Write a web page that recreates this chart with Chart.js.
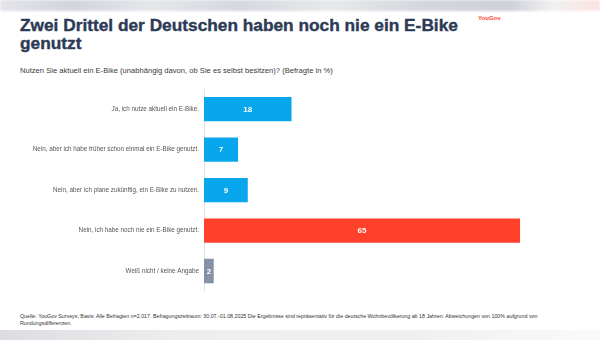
<!DOCTYPE html>
<html lang="de">
<head>
<meta charset="utf-8">
<script src="https://cdn.jsdelivr.net/npm/chart.js@4"></script>
<style>
  html, body { margin: 0; padding: 0; }
  body {
    width: 600px; height: 340px; position: relative; overflow: hidden;
    background: #fff; font-family: "Liberation Sans", Arial, sans-serif;
  }
  .band-top {
    position: absolute; left: 0; top: 0; width: 600px; height: 11px;
    background: linear-gradient(90deg, #e4e5ea 0%, #d3d5dc 12%, #e6e7eb 25%, #d6d8de 40%, #e8e9ec 55%, #d5d7dd 70%, #cfd1d9 85%, #f1f1f2 92%, #fbe3e1 100%);
    filter: blur(1px);
  }
  .band-bottom {
    position: absolute; left: 0; top: 330px; width: 600px; height: 10px;
    background: linear-gradient(90deg, #dcdde1 0%, #eeeef0 30%, #f0f0f1 70%, #fafafa 100%);
  }
  h1 {
    position: absolute; left: 20px; top: 16px; margin: 0; width: 500px;
    font-size: 17.3px; line-height: 18px; font-weight: bold; color: #2c3a56;
    -webkit-text-stroke: 0.4px #2c3a56;
  }
  .logo {
    position: absolute; left: 478px; top: 15px;
    font-size: 6px; font-weight: bold; color: #ff412c;
  }
  .question {
    position: absolute; left: 20px; top: 66px;
    font-size: 7.6px; color: #3a3a3a;
  }
  .note {
    position: absolute; left: 20px; top: 313px; width: 560px;
    font-size: 5.3px; line-height: 7px; color: #333;
  }
  #wrap { position: absolute; left: 0; top: 80px; width: 600px; height: 220px; }
</style>
</head>
<body>
<div class="band-top"></div>
<div class="band-bottom"></div>
<h1>Zwei Drittel der Deutschen haben noch nie ein E-Bike<br>genutzt</h1>
<div class="logo">YouGov</div>
<div class="question">Nutzen Sie aktuell ein E-Bike (unabhängig davon, ob Sie es selbst besitzen)? (Befragte in %)</div>
<div id="wrap"><canvas id="chart"></canvas></div>
<div class="note">Quelle: YouGov Surveys; Basis: Alle Befragten n=2.017. Befragungszeitraum: 30.07.-01.08.2025 Die Ergebnisse sind repräsentativ für die deutsche Wohnbevölkerung ab 18 Jahren. Abweichungen von 100% aufgrund von<br>Rundungsdifferenzen.</div>

<script>
const answers = [
  'Ja, ich nutze aktuell ein E-Bike.',
  'Nein, aber ich habe früher schon einmal ein E-Bike genutzt.',
  'Nein, aber ich plane zukünftig, ein E-Bike zu nutzen.',
  'Nein, ich habe noch nie ein E-Bike genutzt.',
  'Weiß nicht / keine Angabe'
];
const shares = [18, 7, 9, 65, 2];
const barColors = ['#08a6ec', '#08a6ec', '#08a6ec', '#ff412b', '#8591a7'];

// white value in the middle of each bar
const barValues = {
  id: 'barValues',
  afterDatasetsDraw(chart) {
    const ctx = chart.ctx;
    const meta = chart.getDatasetMeta(0);
    ctx.save();
    ctx.fillStyle = '#fff';
    ctx.font = 'bold 8px "Liberation Sans", Arial, sans-serif';
    ctx.textAlign = 'center';
    ctx.textBaseline = 'middle';
    meta.data.forEach((bar, i) => {
      const x = (bar.base + bar.x) / 2;
      ctx.fillText(String(shares[i]), x, bar.y + 0.5);
    });
    ctx.restore();
  }
};

new Chart(document.getElementById('chart'), {
  type: 'bar',
  data: {
    labels: answers,
    datasets: [{
      data: shares,
      backgroundColor: barColors,
      barPercentage: 0.6,
      categoryPercentage: 1.0
    }]
  },
  options: {
    indexAxis: 'y',
    responsive: true,
    maintainAspectRatio: false,
    animation: false,
    layout: { padding: { top: 9, bottom: 7, left: 0, right: 7 } },
    plugins: {
      legend: { display: false },
      tooltip: { enabled: false }
    },
    scales: {
      x: {
        display: false,
        min: 0,
        max: 80
      },
      y: {
        afterFit: (scale) => { scale.width = 204; },
        grid: { display: false, drawTicks: false },
        border: { display: true, color: '#e2e2e2', width: 1 },
        ticks: {
          padding: 5,
          color: '#555',
          font: { family: '"Liberation Sans", Arial, sans-serif', size: 6.3 }
        }
      }
    }
  },
  plugins: [barValues]
});
</script>
</body>
</html>
